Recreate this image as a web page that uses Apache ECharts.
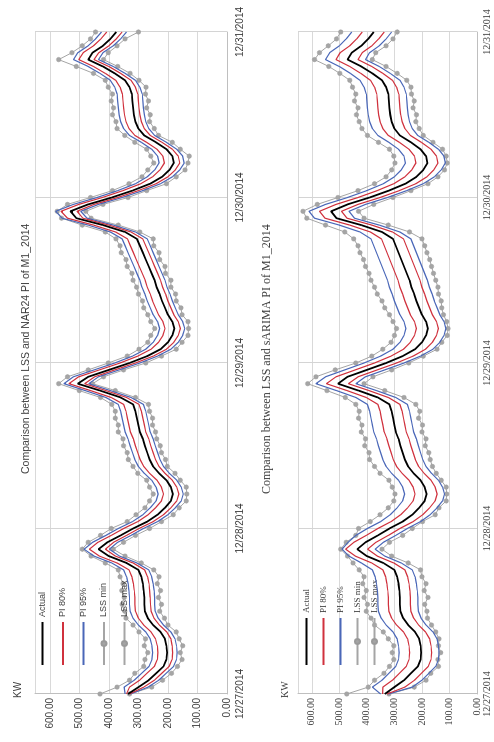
<!DOCTYPE html>
<html>
<head>
<meta charset="utf-8">
<script src="https://cdn.jsdelivr.net/npm/echarts@6/dist/echarts.min.js"></script>
<style>
  html, body { margin: 0; padding: 0; background: #ffffff; overflow: hidden; }
  body { width: 494px; height: 742px; position: relative; }
  /* The page is laid out landscape and turned a quarter turn counter-clockwise */
  #chart {
    position: absolute; left: 0; top: 0;
    width: 742px; height: 494px;
    transform-origin: 0 0;
    transform: translate(0, 742px) rotate(-90deg);
  }
</style>
</head>
<body>
<div id="chart"></div>
<script>
// Day labels on the time axis
const DAYS = ['12/27/2014', '12/28/2014', '12/29/2014', '12/30/2014', '12/31/2014'];
// Value axis ticks (KW)
const VALUE_TICKS = [0, 100, 200, 300, 400, 500, 600];
const LEGEND_NAMES = ['Actual', 'PI 80%', 'PI 95%', 'LSS min', 'LSS max'];

// Hourly load, 12/27 0:00 .. 12/31 0:00 (97 points)
const actual = [
  335, 300, 265, 240, 215, 205, 203, 205, 210, 225, 250, 268, 278, 280, 280, 282, 285, 290, 300, 340, 400, 435, 405, 360,
  318, 270, 235, 210, 190, 183, 190, 205, 230, 250, 262, 270, 278, 285, 295, 300, 305, 310, 318, 360, 430, 505, 470, 400,
  330, 270, 225, 200, 185, 178, 185, 200, 210, 220, 228, 238, 245, 255, 265, 275, 285, 295, 305, 345, 420, 510, 530, 470,
  390, 320, 260, 220, 195, 180, 185, 205, 240, 280, 300, 310, 315, 318, 320, 322, 330, 345, 380, 420, 470, 455, 420, 395,
  375
];

// NAR24 prediction intervals and LSS bounds
const nar80Lo = [
  330, 282, 246, 221, 196, 186, 184, 186, 190, 204, 229, 247, 257, 259, 260, 262, 264, 269, 279, 318, 378, 412, 384, 340,
  298, 250, 215, 190, 170, 163, 170, 185, 210, 230, 242, 250, 258, 265, 275, 280, 285, 290, 298, 340, 410, 482, 448, 380,
  310, 250, 205, 180, 165, 158, 165, 180, 190, 200, 208, 218, 225, 235, 245, 255, 265, 275, 285, 325, 400, 488, 508, 450,
  370, 300, 240, 200, 175, 160, 165, 185, 220, 260, 280, 290, 295, 298, 300, 302, 310, 325, 360, 400, 450, 434, 400, 375,
  355
];
const nar80Hi = [
  340, 330, 296, 271, 246, 236, 234, 236, 242, 257, 282, 300, 310, 312, 312, 314, 317, 322, 332, 372, 432, 466, 437, 392,
  350, 302, 267, 242, 222, 215, 222, 237, 262, 282, 294, 302, 310, 317, 327, 332, 337, 342, 350, 392, 462, 535, 502, 432,
  362, 302, 257, 232, 217, 210, 217, 232, 242, 252, 260, 270, 277, 287, 297, 307, 317, 327, 337, 377, 452, 540, 562, 502,
  422, 352, 292, 252, 227, 212, 217, 237, 272, 312, 332, 342, 347, 350, 352, 354, 362, 377, 412, 452, 502, 487, 452, 427,
  407
];
const nar95Lo = [
  327, 267, 231, 206, 181, 171, 169, 171, 176, 190, 215, 233, 243, 245, 245, 247, 250, 255, 265, 305, 364, 398, 370, 325,
  283, 235, 200, 175, 155, 148, 155, 170, 195, 215, 227, 235, 243, 250, 260, 265, 270, 275, 283, 325, 395, 468, 435, 365,
  295, 235, 190, 165, 150, 143, 150, 165, 175, 185, 193, 203, 210, 220, 230, 240, 250, 260, 270, 310, 385, 474, 495, 435,
  355, 285, 225, 185, 160, 145, 150, 170, 205, 245, 265, 275, 280, 283, 285, 287, 295, 310, 345, 385, 435, 420, 385, 360,
  340
];
const nar95Hi = [
  345, 348, 314, 289, 264, 254, 252, 254, 260, 275, 300, 318, 328, 330, 330, 332, 335, 340, 350, 390, 450, 484, 455, 410,
  368, 320, 285, 260, 240, 233, 240, 255, 280, 300, 312, 320, 328, 335, 345, 350, 355, 360, 368, 410, 480, 552, 520, 450,
  380, 320, 275, 250, 235, 228, 235, 250, 260, 270, 278, 288, 295, 305, 315, 325, 335, 345, 355, 395, 470, 558, 580, 520,
  440, 370, 310, 270, 245, 230, 235, 255, 290, 330, 350, 360, 365, 368, 370, 372, 380, 395, 430, 470, 520, 505, 470, 445,
  425
];
const narLssMin = [
  330, 255, 218, 188, 168, 152, 158, 150, 162, 172, 200, 212, 228, 222, 232, 225, 236, 230, 248, 290, 345, 385, 350, 310,
  262, 222, 182, 162, 138, 136, 138, 158, 176, 202, 208, 222, 226, 238, 242, 252, 252, 262, 266, 310, 378, 455, 418, 350,
  275, 222, 172, 152, 132, 130, 132, 152, 156, 172, 174, 190, 190, 208, 210, 228, 230, 248, 250, 295, 368, 460, 478, 420,
  335, 272, 205, 172, 142, 132, 128, 158, 185, 232, 246, 262, 260, 272, 266, 276, 274, 298, 328, 370, 418, 402, 372, 345,
  300
];
const narLssMax = [
  430, 372, 330, 312, 282, 278, 268, 280, 276, 298, 318, 342, 346, 355, 348, 356, 352, 362, 368, 412, 460, 490, 470, 428,
  392, 338, 308, 278, 262, 250, 262, 272, 302, 318, 334, 338, 350, 352, 368, 368, 378, 378, 390, 428, 500, 570, 540, 470,
  402, 338, 298, 268, 258, 245, 258, 268, 282, 286, 300, 306, 318, 322, 338, 342, 358, 362, 376, 412, 490, 560, 575, 540,
  462, 388, 332, 288, 268, 248, 258, 272, 312, 346, 372, 376, 388, 384, 392, 388, 402, 412, 452, 510, 570, 525, 490, 462,
  445
];

// sARIMA prediction intervals and LSS bounds
const sar80Lo = [
  327, 262, 227, 202, 177, 167, 165, 167, 172, 187, 212, 230, 240, 242, 242, 244, 247, 252, 262, 302, 362, 397, 367, 322,
  280, 232, 197, 172, 152, 145, 152, 167, 192, 212, 224, 232, 240, 247, 257, 262, 267, 272, 280, 322, 392, 467, 432, 362,
  292, 232, 187, 162, 147, 140, 147, 162, 172, 182, 190, 200, 207, 217, 227, 237, 247, 257, 267, 307, 382, 472, 492, 432,
  352, 282, 222, 182, 157, 142, 147, 167, 202, 242, 262, 272, 277, 280, 282, 284, 292, 307, 342, 382, 432, 417, 382, 357,
  337
];
const sar80Hi = [
  343, 342, 307, 282, 257, 247, 245, 247, 252, 267, 292, 310, 320, 322, 322, 324, 327, 332, 342, 382, 442, 477, 447, 402,
  360, 312, 277, 252, 232, 225, 232, 247, 272, 292, 304, 312, 320, 327, 337, 342, 347, 352, 360, 402, 472, 547, 512, 442,
  372, 312, 267, 242, 227, 220, 227, 242, 252, 262, 270, 280, 287, 297, 307, 317, 327, 337, 347, 387, 462, 552, 572, 512,
  432, 362, 302, 262, 237, 222, 227, 247, 282, 322, 342, 352, 357, 360, 362, 364, 372, 387, 422, 462, 512, 497, 462, 437,
  417
];
const sar95Lo = [
  322, 235, 200, 175, 150, 140, 138, 140, 145, 160, 185, 203, 213, 215, 215, 217, 220, 225, 235, 275, 335, 370, 340, 295,
  253, 205, 170, 145, 125, 118, 125, 140, 165, 185, 197, 205, 213, 220, 230, 235, 240, 245, 253, 295, 365, 440, 405, 335,
  265, 205, 160, 135, 120, 113, 120, 135, 145, 155, 163, 173, 180, 190, 200, 210, 220, 230, 240, 280, 355, 445, 465, 405,
  325, 255, 195, 155, 130, 115, 120, 140, 175, 215, 235, 245, 250, 253, 255, 257, 265, 280, 315, 355, 405, 390, 355, 330,
  310
];
const sar95Hi = [
  350, 380, 345, 320, 295, 285, 283, 285, 290, 305, 330, 348, 358, 360, 360, 362, 365, 370, 380, 420, 465, 490, 468, 440,
  398, 350, 315, 290, 270, 263, 270, 285, 310, 330, 342, 350, 358, 365, 375, 380, 385, 390, 398, 440, 510, 585, 550, 480,
  410, 350, 305, 280, 265, 258, 265, 280, 290, 300, 308, 318, 325, 335, 345, 355, 365, 375, 385, 425, 500, 590, 610, 550,
  470, 400, 340, 300, 275, 260, 265, 285, 320, 360, 380, 390, 395, 398, 400, 402, 410, 425, 460, 500, 550, 535, 500, 475,
  455
];
const sarLssMin = [
  320, 228, 185, 168, 140, 142, 132, 140, 138, 150, 165, 180, 182, 190, 178, 192, 185, 200, 205, 250, 310, 345, 318, 270,
  235, 198, 152, 138, 112, 110, 112, 130, 148, 162, 170, 175, 188, 185, 200, 198, 212, 208, 222, 265, 335, 410, 378, 310,
  248, 195, 145, 128, 108, 105, 110, 122, 128, 130, 140, 142, 150, 158, 165, 172, 182, 190, 200, 245, 322, 410, 430, 375,
  305, 240, 178, 142, 118, 108, 112, 125, 160, 195, 210, 222, 220, 232, 228, 238, 240, 255, 290, 330, 380, 368, 330, 305,
  290
];
const sarLssMax = [
  473, 395, 372, 338, 318, 302, 308, 302, 322, 340, 372, 385, 402, 398, 410, 402, 415, 410, 428, 450, 470, 495, 475, 440,
  430, 388, 352, 322, 302, 298, 308, 320, 352, 372, 390, 392, 408, 405, 420, 418, 430, 428, 440, 478, 545, 615, 585, 515,
  440, 382, 342, 312, 300, 292, 305, 318, 335, 345, 362, 372, 385, 392, 405, 412, 425, 432, 448, 480, 550, 618, 632, 580,
  505, 432, 372, 330, 310, 298, 302, 318, 358, 398, 418, 428, 438, 432, 445, 440, 452, 462, 498, 538, 590, 572, 540, 510,
  495
];

// Hourly time stamps for the category axis
const times = [];
for (let d = 0; d < DAYS.length - 1; d++) {
  for (let h = 0; h < 24; h++) times.push(DAYS[d] + ' ' + h + ':00');
}
times.push(DAYS[DAYS.length - 1] + ' 0:00');

const SANS = 'Liberation Sans, Arial, sans-serif';
const SERIF = 'Liberation Serif, Times New Roman, serif';
const COLORS = { actual: '#000000', pi80: '#d0313d', pi95: '#4a67b8', lss: '#a5a5a5' };

function lineSeries(name, data, idx, color, width, withMarker, z) {
  return {
    name: name,
    type: 'line',
    xAxisIndex: idx,
    yAxisIndex: idx,
    data: data,
    symbol: withMarker ? 'circle' : 'none',
    symbolSize: 4.5,
    showSymbol: withMarker,
    itemStyle: { color: color, borderColor: '#9a9a9a', borderWidth: 0.5 },
    lineStyle: { color: color, width: width },
    animation: false,
    z: z,
    emphasis: { disabled: true }
  };
}

function chartSeries(idx, lo80, hi80, lo95, hi95, lssMin, lssMax) {
  return [
    lineSeries('Actual', actual, idx, COLORS.actual, 1.8, false, 6),
    lineSeries('PI 80%', lo80, idx, COLORS.pi80, 1.2, false, 5),
    lineSeries('PI 80%', hi80, idx, COLORS.pi80, 1.2, false, 5),
    lineSeries('PI 95%', lo95, idx, COLORS.pi95, 1.2, false, 4),
    lineSeries('PI 95%', hi95, idx, COLORS.pi95, 1.2, false, 4),
    lineSeries('LSS min', lssMin, idx, COLORS.lss, 1, true, 3),
    lineSeries('LSS max', lssMax, idx, COLORS.lss, 1, true, 3)
  ];
}

// Legend entries: plain lines for Actual / PI, line with a dot for the LSS bounds
function legendItems() {
  return LEGEND_NAMES.map(n => n.indexOf('LSS') === 0
    ? { name: n }
    : { name: n, itemStyle: { opacity: 0 } });
}

function timeAxis(idx, font, margin) {
  return {
    type: 'category',
    gridIndex: idx,
    data: times,
    boundaryGap: false,
    axisLine: { lineStyle: { color: '#bfbfbf', width: 1 } },
    axisTick: { show: false },
    axisLabel: {
      interval: 23,
      margin: margin,
      fontFamily: font,
      fontSize: 10,
      color: '#404040',
      formatter: v => v.split(' ')[0]
    },
    splitLine: { show: true, interval: 23, lineStyle: { color: '#d4d4d4', width: 1 } }
  };
}

function valueAxis(idx, font, nameGap) {
  return {
    type: 'value',
    gridIndex: idx,
    min: VALUE_TICKS[0],
    max: 650,
    interval: 100,
    name: 'KW',
    nameLocation: 'end',
    nameGap: nameGap,
    nameTextStyle: { fontFamily: font, fontSize: 10, color: '#404040', align: 'left', padding: [0, 0, 0, -4] },
    axisLine: { show: true, lineStyle: { color: '#bfbfbf', width: 1 } },
    axisTick: { show: false },
    axisLabel: {
      showMaxLabel: false,
      margin: 4,
      fontFamily: font,
      fontSize: 10,
      color: '#404040',
      formatter: v => (VALUE_TICKS.indexOf(v) >= 0 ? v.toFixed(2) : '')
    },
    splitLine: { show: true, lineStyle: { color: '#d9d9d9', width: 1 } }
  };
}

const chart = echarts.init(document.getElementById('chart'), null, { renderer: 'canvas' });

chart.setOption({
  backgroundColor: '#ffffff',
  animation: false,
  title: [
    {
      text: 'Comparison between LSS and NAR24 PI of M1_2014',
      left: 263, top: 16,
      textStyle: { fontFamily: SANS, fontSize: 10.5, fontWeight: 'normal', color: '#404040' }
    },
    {
      text: 'Comparison between LSS and sARIMA PI of M1_2014',
      left: 243, top: 256,
      textStyle: { fontFamily: SERIF, fontSize: 12, fontWeight: 'normal', color: '#404040' }
    }
  ],
  legend: [
    {
      data: legendItems(),
      orient: 'vertical',
      left: 71, top: 33,
      itemWidth: 43, itemHeight: 6, itemGap: 11.5,
      selectedMode: false,
      textStyle: { fontFamily: SANS, fontSize: 9, color: '#404040' }
    },
    {
      data: legendItems(),
      orient: 'vertical',
      left: 71, top: 297,
      itemWidth: 47, itemHeight: 6, itemGap: 8,
      selectedMode: false,
      textStyle: { fontFamily: SERIF, fontSize: 9, color: '#404040' }
    }
  ],
  grid: [
    { left: 48, top: 35, width: 662, height: 192, containLabel: false },
    { left: 48, top: 298, width: 662, height: 179, containLabel: false }
  ],
  xAxis: [timeAxis(0, SANS, 8), timeAxis(1, SERIF, 5)],
  yAxis: [valueAxis(0, SANS, 12), valueAxis(1, SERIF, 8)],
  series: [].concat(
    chartSeries(0, nar80Lo, nar80Hi, nar95Lo, nar95Hi, narLssMin, narLssMax),
    chartSeries(1, sar80Lo, sar80Hi, sar95Lo, sar95Hi, sarLssMin, sarLssMax)
  )
});
</script>
</body>
</html>
